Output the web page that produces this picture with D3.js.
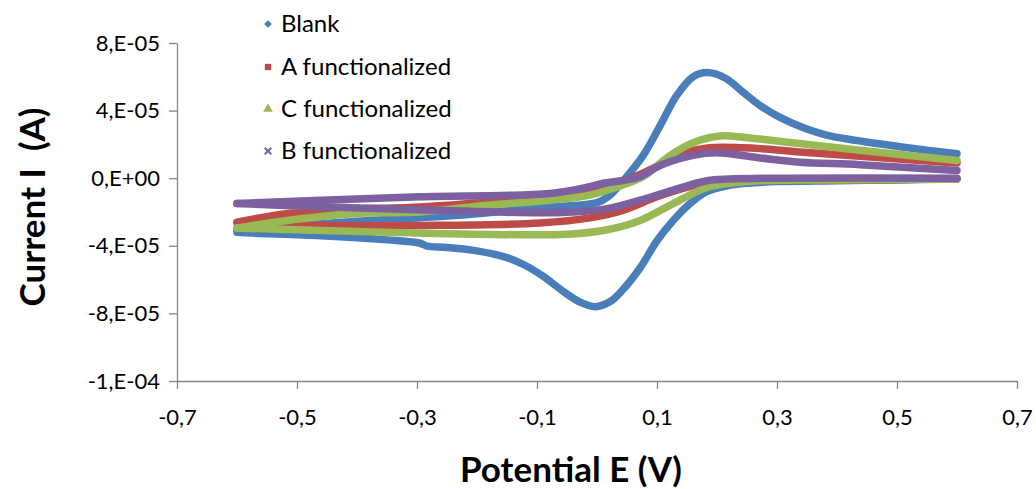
<!DOCTYPE html>
<html><head><meta charset="utf-8">
<script src="https://cdn.jsdelivr.net/npm/d3@7"></script>
<style>
body{margin:0;background:#fff}
text{font-family:Lato,"Open Sans",sans-serif;fill:#000}
</style>
</head><body>
<svg id="chart" width="1036" height="489"></svg>
<script>
// ---------- data ----------
const seriesNames = ["Blank", "A functionalized", "C functionalized", "B functionalized"];
const seriesColors = ["#4A7EBB", "#BE4B48", "#98B954", "#7D60A0"];
const seriesSymbols = ["diamond", "square", "triangle", "cross"];

const xTickValues = [-0.7, -0.5, -0.3, -0.1, 0.1, 0.3, 0.5, 0.7];
const xTickLabels = ["-0,7", "-0,5", "-0,3", "-0,1", "0,1", "0,3", "0,5", "0,7"];
const yTickValues = [8e-5, 4e-5, 0, -4e-5, -8e-5, -1.2e-4];
const yTickLabels = ["8,E-05", "4,E-05", "0,E+00", "-4,E-05", "-8,E-05", "-1,E-04"];

// [potential E (V), current I (A)]
const blankForward = [[-0.6,-3.1e-5],[-0.5,-2.8e-5],[-0.4,-2.55e-5],[-0.3,-2.35e-5],[-0.2,-2.1e-5],[-0.1,-1.75e-5],[0.0,-1.45e-5],[0.02,-1.05e-5],[0.045,-0.1e-5],[0.077,1.35e-5],[0.105,3.1e-5],[0.133,4.9e-5],[0.16,6.0e-5],[0.183,6.25e-5],[0.215,5.9e-5],[0.243,5.1e-5],[0.272,4.3e-5],[0.305,3.6e-5],[0.34,3.05e-5],[0.383,2.55e-5],[0.467,2.05e-5],[0.55,1.65e-5],[0.6,1.45e-5]];
const blankReverse = [[0.6,-0.05e-5],[0.5,-0.1e-5],[0.4,-0.15e-5],[0.3,-0.2e-5],[0.25,-0.3e-5],[0.217,-0.45e-5],[0.183,-0.8e-5],[0.155,-1.5e-5],[0.127,-2.5e-5],[0.1,-3.7e-5],[0.072,-5.3e-5],[0.043,-6.6e-5],[0.022,-7.3e-5],[-0.003,-7.6e-5],[-0.03,-7.3e-5],[-0.06,-6.6e-5],[-0.09,-5.8e-5],[-0.12,-5.15e-5],[-0.15,-4.7e-5],[-0.2,-4.3e-5],[-0.25,-4.1e-5],[-0.283,-4.02e-5],[-0.295,-3.85e-5],[-0.35,-3.65e-5],[-0.46,-3.4e-5],[-0.573,-3.25e-5],[-0.6,-3.2e-5]];

const aForward = [[-0.6,-2.6e-5],[-0.517,-2.1e-5],[-0.407,-1.85e-5],[-0.295,-1.7e-5],[-0.183,-1.4e-5],[-0.078,-1.0e-5],[0.0,-0.6e-5],[0.05,-0.1e-5],[0.1,0.7e-5],[0.143,1.45e-5],[0.188,1.8e-5],[0.243,1.8e-5],[0.272,1.75e-5],[0.338,1.55e-5],[0.438,1.3e-5],[0.6,0.9e-5]];
const aReverse = [[0.6,-0.05e-5],[0.4,-0.1e-5],[0.3,-0.1e-5],[0.21,-0.15e-5],[0.155,-0.5e-5],[0.1,-1.1e-5],[0.043,-1.9e-5],[-0.012,-2.35e-5],[-0.095,-2.65e-5],[-0.295,-2.8e-5],[-0.46,-2.8e-5],[-0.6,-2.65e-5]];

const cForward = [[-0.6,-2.95e-5],[-0.517,-2.5e-5],[-0.407,-2.1e-5],[-0.295,-2.0e-5],[-0.183,-1.6e-5],[-0.078,-1.3e-5],[-0.012,-1.0e-5],[0.043,-0.4e-5],[0.077,0.1e-5],[0.122,1.35e-5],[0.16,2.1e-5],[0.205,2.5e-5],[0.25,2.4e-5],[0.338,2.05e-5],[0.438,1.65e-5],[0.6,1.05e-5]];
const cReverse = [[0.6,-0.05e-5],[0.4,-0.1e-5],[0.27,-0.15e-5],[0.22,-0.3e-5],[0.183,-0.55e-5],[0.127,-1.5e-5],[0.072,-2.5e-5],[0.017,-3.05e-5],[-0.04,-3.3e-5],[-0.095,-3.35e-5],[-0.295,-3.25e-5],[-0.46,-3.1e-5],[-0.6,-2.95e-5]];

const bForward = [[-0.6,-1.5e-5],[-0.46,-1.3e-5],[-0.295,-1.1e-5],[-0.078,-0.9e-5],[-0.012,-0.5e-5],[0.01,-0.3e-5],[0.04,-0.15e-5],[0.072,0.1e-5],[0.105,0.75e-5],[0.16,1.35e-5],[0.2,1.5e-5],[0.272,1.2e-5],[0.338,0.95e-5],[0.438,0.8e-5],[0.6,0.45e-5]];
const bReverse = [[0.6,0.0],[0.3,0.0],[0.22,-0.05e-5],[0.183,-0.15e-5],[0.127,-0.7e-5],[0.072,-1.3e-5],[0.017,-1.8e-5],[-0.04,-2.0e-5],[-0.095,-2.05e-5],[-0.27,-1.9e-5],[-0.45,-1.7e-5],[-0.6,-1.5e-5]];

const seriesData = [[blankForward, blankReverse],[aForward, aReverse],[cForward, cReverse],[bForward, bReverse]];

// ---------- layout ----------
const svg = d3.select("#chart");
svg.append("rect").attr("width",1036).attr("height",489).attr("fill","#fff");
const x = d3.scaleLinear().domain([-0.7, 0.7]).range([177, 1017]);
const y = d3.scaleLinear().domain([-1.2e-4, 8e-5]).range([381, 43]);
const axisColor = "#868686";

// y axis
const gy = svg.append("g").attr("transform", `translate(${x(-0.7)},0)`)
  .call(d3.axisLeft(y).tickValues(yTickValues).tickFormat((d,i)=>yTickLabels[i]).tickSize(8).tickSizeOuter(0).tickPadding(9));
// x axis
const gx = svg.append("g").attr("transform", `translate(0,${y(-1.2e-4)})`)
  .call(d3.axisBottom(x).tickValues(xTickValues).tickFormat((d,i)=>xTickLabels[i]).tickSize(8).tickSizeOuter(0).tickPadding(20));
[gx, gy].forEach(g => {
  g.select(".domain").attr("stroke", axisColor).attr("stroke-width", 1.3);
  g.selectAll(".tick line").attr("stroke", axisColor).attr("stroke-width", 1.3);
  g.selectAll(".tick text").attr("font-size", 22).attr("font-family", "Lato, 'Open Sans', sans-serif").attr("fill", "#000");
});

// curves
const line = d3.line().x(d => x(d[0])).y(d => y(d[1])).curve(d3.curveCatmullRom.alpha(0.5));
const plot = svg.append("g");
seriesData.forEach((branches, i) => {
  branches.forEach(b => {
    plot.append("path").attr("d", line(b)).attr("fill","none")
      .attr("stroke", seriesColors[i]).attr("stroke-width", 7.5)
      .attr("stroke-linecap","round").attr("stroke-linejoin","round");
  });
});

// legend
const symTypes = {diamond: d3.symbolSquare, square: d3.symbolSquare, triangle: d3.symbolTriangle, cross: d3.symbolX};
const legendY = [24, 67, 109, 151];
seriesNames.forEach((name, i) => {
  const g = svg.append("g").attr("transform", `translate(268,${legendY[i]})`);
  const s = seriesSymbols[i];
  const sym = d3.symbol().type(symTypes[s]).size(s==="cross" ? 30 : (s==="diamond" ? 28 : 40));
  const p = g.append("path").attr("d", sym());
  if (s === "diamond") p.attr("transform","rotate(45)");
  if (s === "cross") p.attr("fill","none").attr("stroke", seriesColors[i]).attr("stroke-width", 2);
  else p.attr("fill", seriesColors[i]);
  g.append("text").attr("x", 13).attr("dy", "0.35em").attr("font-size", 24).text(name);
});

// axis titles
svg.append("text").attr("x", 571).attr("y", 482).attr("text-anchor","middle")
  .attr("font-size", 35).attr("font-weight", "bold").text("Potential E (V)");
svg.append("text").attr("transform", "translate(45,207) rotate(-90)").attr("text-anchor","middle")
  .attr("font-size", 35).attr("font-weight", "bold").style("white-space","pre").text("Current I  (A)");
</script>
</body></html>
